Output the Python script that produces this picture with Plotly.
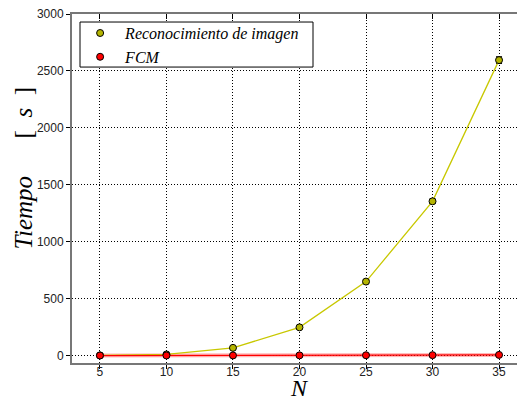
import plotly.graph_objects as go

N = [5, 10, 15, 20, 25, 30, 35]
rec_vals = [2, 10, 68, 248, 650, 1355, 2595]
rec_err = [1, 3, 8, 10, 15, 20, 30]
fcm_vals = [0.5, 1, 1.5, 2, 3, 4, 6]
fcm_err = [0.3, 0.5, 0.5, 0.8, 1, 1, 1.5]
x_ticks = [5, 10, 15, 20, 25, 30, 35]
y_ticks = [0, 500, 1000, 1500, 2000, 2500, 3000]

YEL = "#c8c800"
YEL_M = "#b4b400"
RED = "#ff0000"
SERIF = "Liberation Serif"
SANS = "Liberation Sans"

fig = go.Figure()

# invisible trace to drive the top (mirrored) axis
fig.add_trace(go.Scatter(x=N, y=rec_vals, xaxis="x2", mode="markers",
                         marker=dict(opacity=0), showlegend=False, hoverinfo="skip"))

# halo under FCM line
fig.add_trace(go.Scatter(x=N, y=fcm_vals, mode="lines",
                         line=dict(color="rgba(255,0,0,0.28)", width=4),
                         showlegend=False, hoverinfo="skip"))

fig.add_trace(go.Scatter(
    x=N, y=rec_vals, mode="lines+markers", name="Reconocimiento de imagen",
    line=dict(color=YEL, width=1.3),
    marker=dict(color=YEL_M, size=7, line=dict(color="black", width=1)),
    error_y=dict(type="data", array=rec_err, color="black", thickness=1, width=3),
    showlegend=False,
))
fig.add_trace(go.Scatter(
    x=N, y=fcm_vals, mode="lines+markers", name="FCM",
    line=dict(color=RED, width=1.3),
    marker=dict(color=RED, size=7, line=dict(color="black", width=1)),
    error_y=dict(type="data", array=fcm_err, color="black", thickness=1, width=3),
    showlegend=False,
))

# legend entries (marker only, like the reference)
fig.add_trace(go.Scatter(x=[None], y=[None], mode="markers", name="Reconocimiento de imagen",
                         marker=dict(color=YEL_M, size=7, line=dict(color="black", width=1))))
fig.add_trace(go.Scatter(x=[None], y=[None], mode="markers", name="FCM",
                         marker=dict(color=RED, size=7, line=dict(color="black", width=1))))

axis_common = dict(
    showgrid=True, gridcolor="black", griddash="1px,2px", gridwidth=1,
    zeroline=False, linecolor="#777777", linewidth=2, showline=True,
    automargin=False,
)

fig.update_layout(
    width=517, height=402,
    margin=dict(l=72, r=0, t=14, b=39),
    paper_bgcolor="white", plot_bgcolor="white",
    xaxis=dict(
        range=[2.9, 36.35], tickvals=x_ticks, ticks="outside", ticklen=4,
        tickcolor="black", tickwidth=1, ticklabelstandoff=-7,
        tickfont=dict(family=SANS, size=12, color="#222222"),
        **axis_common,
    ),
    xaxis2=dict(
        range=[2.9, 36.35], tickvals=x_ticks, overlaying="x", side="top",
        ticks="inside", ticklen=5, tickcolor="black", tickwidth=1,
        showticklabels=False, showgrid=False, zeroline=False,
        showline=True, linecolor="#777777", linewidth=2,
    ),
    yaxis=dict(
        range=[-65, 3000], tickvals=y_ticks, ticks="outside", ticklen=4,
        tickcolor="black", tickwidth=1,
        tickfont=dict(family=SANS, size=12, color="#222222"),
        **axis_common,
    ),
    legend=dict(
        x=0.007, y=0.994, xanchor="left", yanchor="top",
        bgcolor="rgba(0,0,0,0)", borderwidth=0,
        font=dict(family=SERIF, size=16, style="italic", color="black"),
        itemwidth=40, tracegroupgap=0,
    ),
    showlegend=True,
    shapes=[
        dict(type="rect", xref="paper", yref="paper", x0=0.018, x1=0.5416,
             y0=0.848, y1=0.977, fillcolor="white", line=dict(color="black", width=1),
             layer="above"),
    ],
    annotations=[
        dict(text="<i>N</i>", xref="paper", yref="paper", x=0.512, y=-0.1117,
             xanchor="center", yanchor="bottom", showarrow=False, borderpad=0,
             font=dict(family=SERIF, size=24, color="black")),
        dict(text="<i>Tiempo</i>\u2003\u2002[\u2002<i>s</i>\u2002]", xref="paper", yref="paper",
             x=-0.108, y=0.56, xanchor="center", yanchor="middle", textangle=-90,
             showarrow=False,
             font=dict(family=SERIF, size=25, color="black")),
    ],
)

fig.write_html("out.html", config={"displayModeBar": False},
               post_script="document.body.style.margin='0';document.body.style.padding='0';")
